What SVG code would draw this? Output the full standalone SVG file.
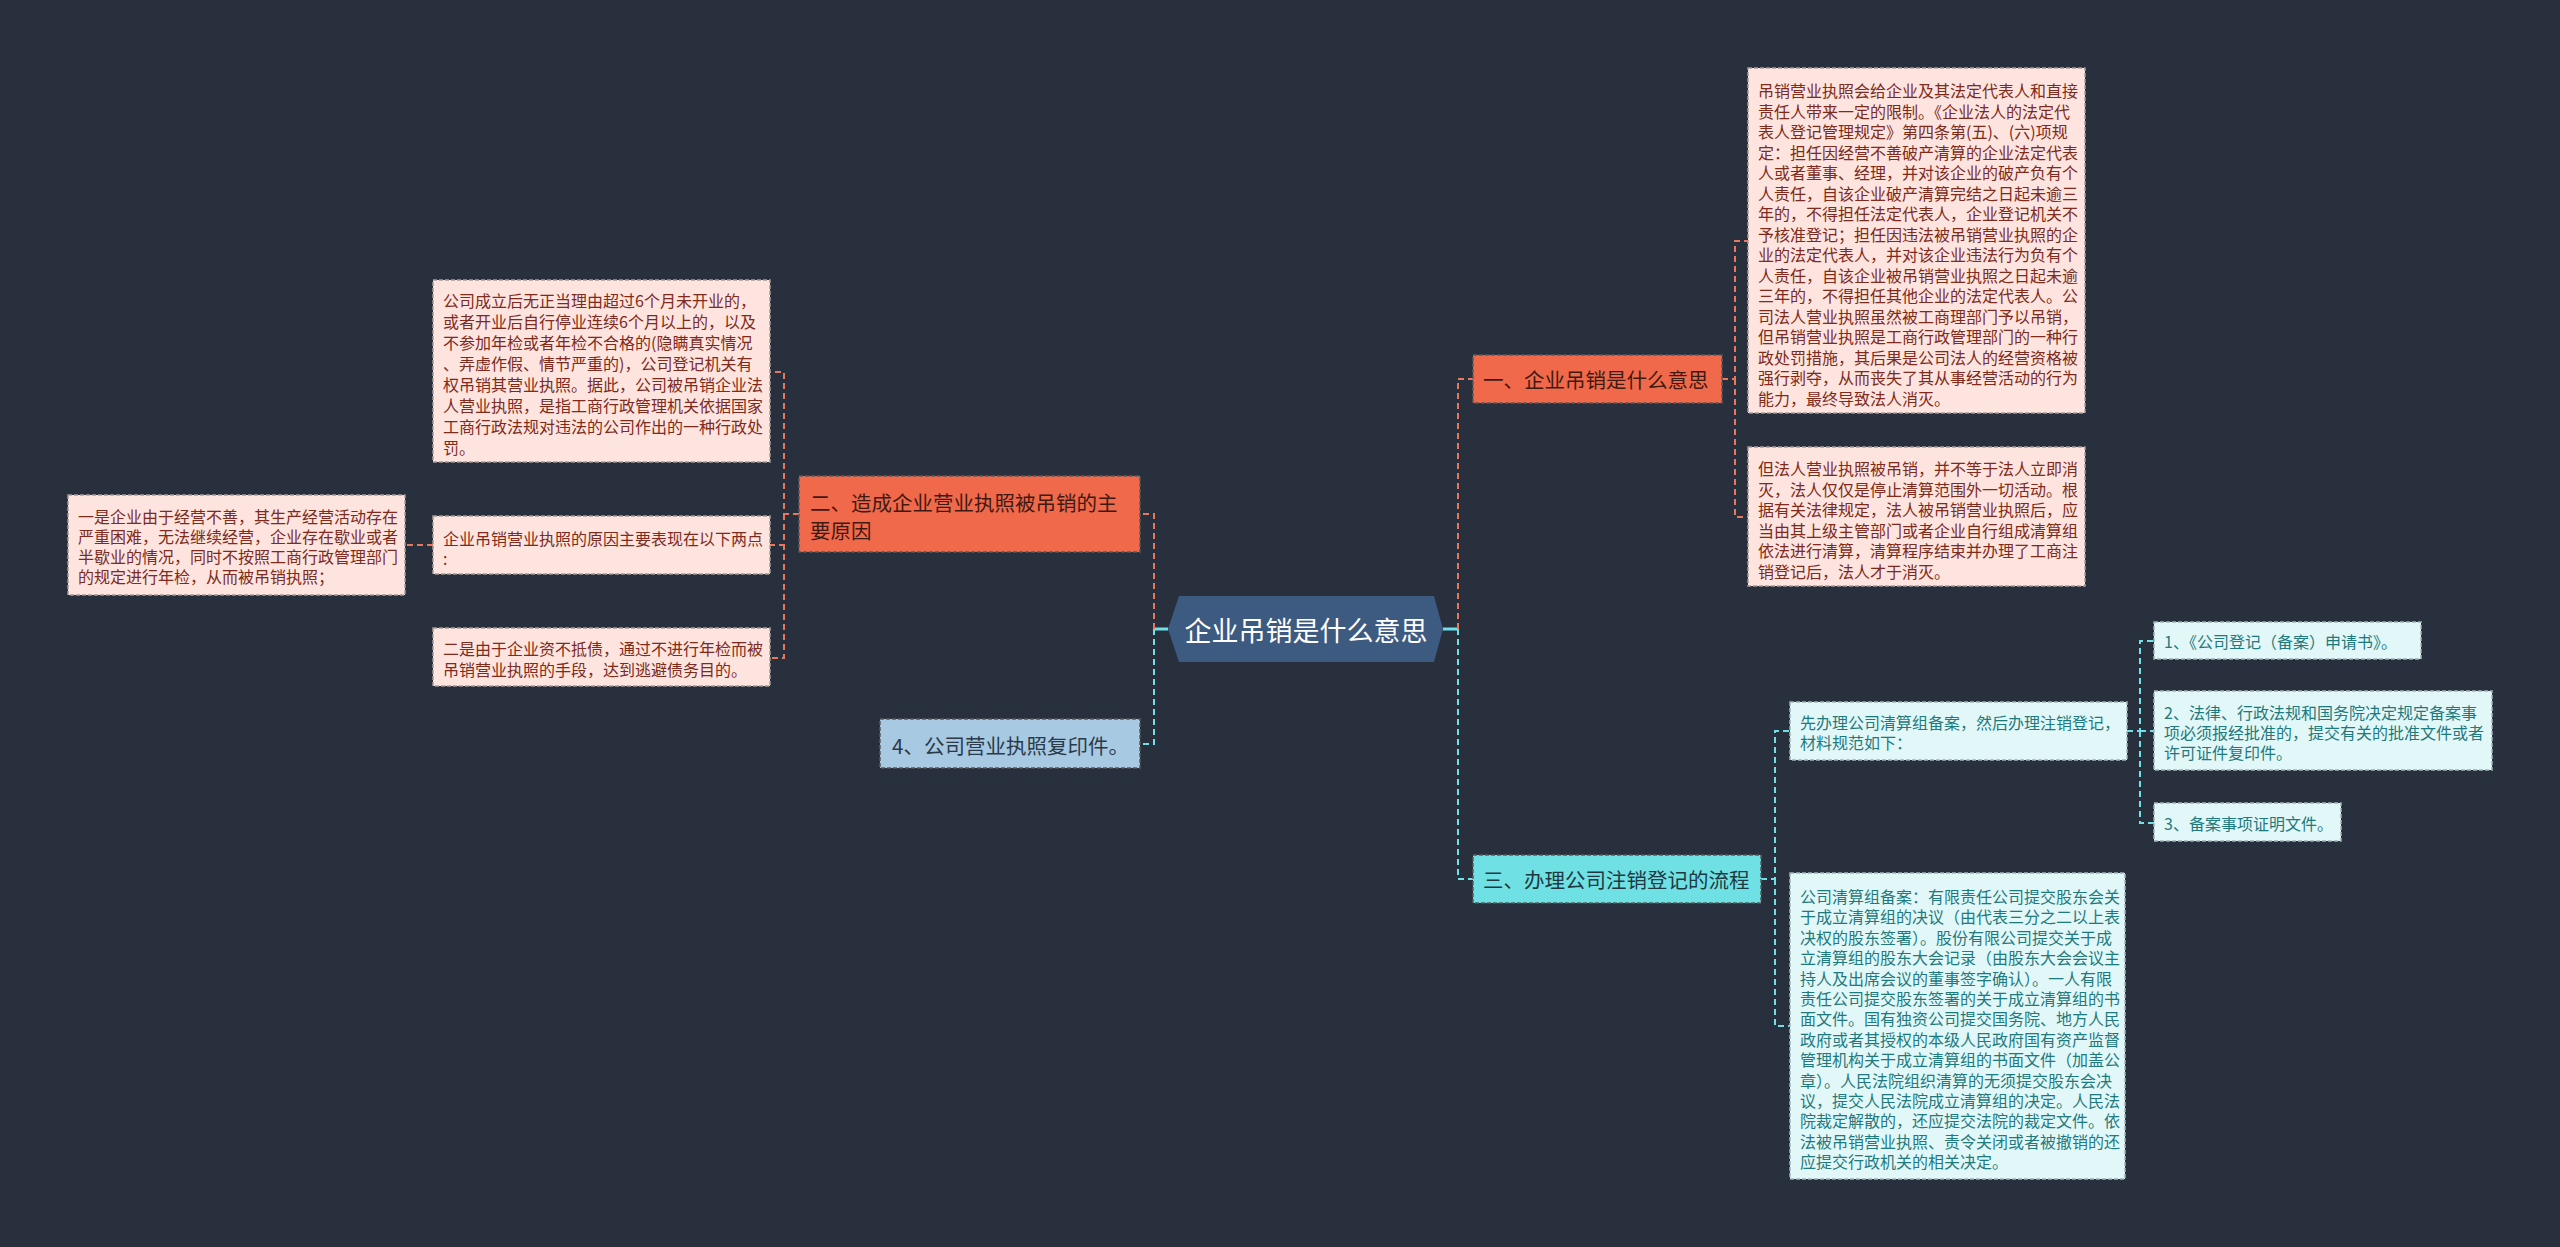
<svg xmlns="http://www.w3.org/2000/svg" width="2560" height="1247" viewBox="0 0 2560 1247">
<style>
text{font-family:"Noto Sans CJK SC","Noto Sans",sans-serif;dominant-baseline:central}
.leafR rect{fill:#fde4de;stroke:#a89a96;stroke-width:1.5;stroke-dasharray:4 2}
.leafR text{fill:#7e2a1c;font-size:16px}
.leafC rect{fill:#e1f7f8;stroke:#a0b4b6;stroke-width:1.5;stroke-dasharray:4 2}
.leafC text{fill:#1f7a7e;font-size:16px}
.br text{font-size:20.5px}
.br rect{stroke:#5a5a5a;stroke-width:1.5;stroke-dasharray:4 2}
.cs{fill:none;stroke:#e8775b;stroke-width:2;stroke-dasharray:6 4}
.cc{fill:none;stroke:#6fdfe8;stroke-width:2;stroke-dasharray:6 4}
.solid{fill:none;stroke:#6fdfe8;stroke-width:3}
</style>
<rect width="2560" height="1247" fill="#282f3d"/>
<g id="connectors">
<path class="solid" d="M1168 629H1154M1443 629H1458"/>
<path class="cs" d="M1154 629V514H1140"/>
<path class="cc" d="M1154 629V744H1140"/>
<path class="cs" d="M1458 629V379H1473"/>
<path class="cc" d="M1458 629V879H1473"/>
<path class="cs" d="M1722 379H1735V241H1748M1735 379V517H1748"/>
<path class="cs" d="M799 514H784V372H770M784 514V545H770M784 514V658H770"/>
<path class="cs" d="M433 545H405"/>
<path class="cc" d="M1761 879H1775V731H1790M1775 879V1026H1790"/>
<path class="cc" d="M2127 731H2140V641H2154M2140 731H2154M2140 731V823H2154"/>
</g>
<g id="root">
<polygon points="1168,629 1179,596 1434,596 1443,629 1434,662 1179,662" fill="#3d5a80"/>
<text x="1306" y="629" text-anchor="middle" fill="#ffffff" font-size="27">企业吊销是什么意思</text>
</g>
<g id="b1" class="br">
<rect x="1473" y="355" width="249" height="48" fill="#f0694b"/>
<text x="1483" y="379" fill="#3f1a12">一、企业吊销是什么意思</text>
</g>
<g id="b2" class="br">
<rect x="799" y="476" width="341" height="76" fill="#f0694b"/>
<text x="810" y="502" fill="#3f1a12">二、造成企业营业执照被吊销的主</text>
<text x="810" y="530" fill="#3f1a12">要原因</text>
</g>
<g id="b3" class="br">
<rect x="1473" y="855" width="288" height="48" fill="#6fe1e5"/>
<text x="1483" y="879" fill="#1d3a42">三、办理公司注销登记的流程</text>
</g>
<g id="b4" class="br">
<rect x="880" y="719" width="260" height="49" fill="#a7c9e2"/>
<text x="892" y="745" fill="#2b3a4a">4、公司营业执照复印件。</text>
</g>
<g id="r1" class="leafR">
<rect x="1748" y="68" width="337" height="345"/>
<text x="1758" y="90">吊销营业执照会给企业及其法定代表人和直接</text>
<text x="1758" y="110.5">责任人带来一定的限制。《企业法人的法定代</text>
<text x="1758" y="131">表人登记管理规定》第四条第(五)、(六)项规</text>
<text x="1758" y="151.5">定：担任因经营不善破产清算的企业法定代表</text>
<text x="1758" y="172">人或者董事、经理，并对该企业的破产负有个</text>
<text x="1758" y="192.5">人责任，自该企业破产清算完结之日起未逾三</text>
<text x="1758" y="213">年的，不得担任法定代表人，企业登记机关不</text>
<text x="1758" y="233.5">予核准登记；担任因违法被吊销营业执照的企</text>
<text x="1758" y="254">业的法定代表人，并对该企业违法行为负有个</text>
<text x="1758" y="274.5">人责任，自该企业被吊销营业执照之日起未逾</text>
<text x="1758" y="295">三年的，不得担任其他企业的法定代表人。公</text>
<text x="1758" y="315.5">司法人营业执照虽然被工商理部门予以吊销，</text>
<text x="1758" y="336">但吊销营业执照是工商行政管理部门的一种行</text>
<text x="1758" y="356.5">政处罚措施，其后果是公司法人的经营资格被</text>
<text x="1758" y="377">强行剥夺，从而丧失了其从事经营活动的行为</text>
<text x="1758" y="397.5">能力，最终导致法人消灭。</text>
</g>
<g id="r2" class="leafR">
<rect x="1748" y="447" width="337" height="139"/>
<text x="1758" y="468">但法人营业执照被吊销，并不等于法人立即消</text>
<text x="1758" y="488.5">灭，法人仅仅是停止清算范围外一切活动。根</text>
<text x="1758" y="509">据有关法律规定，法人被吊销营业执照后，应</text>
<text x="1758" y="529.5">当由其上级主管部门或者企业自行组成清算组</text>
<text x="1758" y="550">依法进行清算，清算程序结束并办理了工商注</text>
<text x="1758" y="570.5">销登记后，法人才于消灭。</text>
</g>
<g id="l1" class="leafR">
<rect x="433" y="280" width="337" height="182"/>
<text x="443" y="300">公司成立后无正当理由超过6个月未开业的，</text>
<text x="443" y="321">或者开业后自行停业连续6个月以上的，以及</text>
<text x="443" y="342">不参加年检或者年检不合格的(隐瞒真实情况</text>
<text x="443" y="363">、弄虚作假、情节严重的)，公司登记机关有</text>
<text x="443" y="384">权吊销其营业执照。据此，公司被吊销企业法</text>
<text x="443" y="405">人营业执照，是指工商行政管理机关依据国家</text>
<text x="443" y="426">工商行政法规对违法的公司作出的一种行政处</text>
<text x="443" y="447">罚。</text>
</g>
<g id="l2" class="leafR">
<rect x="433" y="516" width="337" height="58"/>
<text x="443" y="538">企业吊销营业执照的原因主要表现在以下两点</text>
<text x="443" y="558">:</text>
</g>
<g id="l2a" class="leafR">
<rect x="68" y="495" width="337" height="100"/>
<text x="78" y="516">一是企业由于经营不善，其生产经营活动存在</text>
<text x="78" y="536">严重困难，无法继续经营，企业存在歇业或者</text>
<text x="78" y="556">半歇业的情况，同时不按照工商行政管理部门</text>
<text x="78" y="576">的规定进行年检，从而被吊销执照；</text>
</g>
<g id="l3" class="leafR">
<rect x="433" y="628" width="337" height="58"/>
<text x="443" y="648">二是由于企业资不抵债，通过不进行年检而被</text>
<text x="443" y="669">吊销营业执照的手段，达到逃避债务目的。</text>
</g>
<g id="c1" class="leafC">
<rect x="1790" y="702" width="337" height="58"/>
<text x="1800" y="722">先办理公司清算组备案，然后办理注销登记，</text>
<text x="1800" y="742">材料规范如下：</text>
</g>
<g id="c2" class="leafC">
<rect x="1790" y="873" width="335" height="306"/>
<text x="1800" y="896">公司清算组备案：有限责任公司提交股东会关</text>
<text x="1800" y="916.4">于成立清算组的决议（由代表三分之二以上表</text>
<text x="1800" y="936.8">决权的股东签署）。股份有限公司提交关于成</text>
<text x="1800" y="957.2">立清算组的股东大会记录（由股东大会会议主</text>
<text x="1800" y="977.6">持人及出席会议的董事签字确认）。一人有限</text>
<text x="1800" y="998">责任公司提交股东签署的关于成立清算组的书</text>
<text x="1800" y="1018.4">面文件。国有独资公司提交国务院、地方人民</text>
<text x="1800" y="1038.8">政府或者其授权的本级人民政府国有资产监督</text>
<text x="1800" y="1059.2">管理机构关于成立清算组的书面文件（加盖公</text>
<text x="1800" y="1079.6">章）。人民法院组织清算的无须提交股东会决</text>
<text x="1800" y="1100">议，提交人民法院成立清算组的决定。人民法</text>
<text x="1800" y="1120.4">院裁定解散的，还应提交法院的裁定文件。依</text>
<text x="1800" y="1140.8">法被吊销营业执照、责令关闭或者被撤销的还</text>
<text x="1800" y="1161.2">应提交行政机关的相关决定。</text>
</g>
<g id="i1" class="leafC">
<rect x="2154" y="622" width="267" height="37"/>
<text x="2164" y="641">1、《公司登记（备案）申请书》。</text>
</g>
<g id="i2" class="leafC">
<rect x="2154" y="691" width="338" height="79"/>
<text x="2164" y="712">2、法律、行政法规和国务院决定规定备案事</text>
<text x="2164" y="732">项必须报经批准的，提交有关的批准文件或者</text>
<text x="2164" y="752">许可证件复印件。</text>
</g>
<g id="i3" class="leafC">
<rect x="2154" y="803" width="187" height="38"/>
<text x="2164" y="823">3、备案事项证明文件。</text>
</g>
</svg>
